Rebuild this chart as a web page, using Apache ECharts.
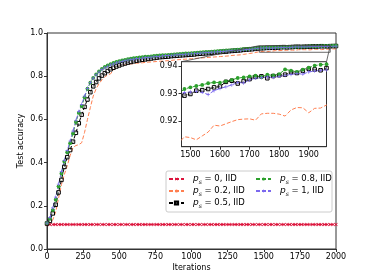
<!DOCTYPE html>
<html><head><meta charset="utf-8">
<script src="https://cdn.jsdelivr.net/npm/echarts@6/dist/echarts.min.js"></script>
<style>html,body{margin:0;padding:0;background:#fff}#c{width:374px;height:280px}</style>
</head><body><div id="c"></div>
<script>
const iterations = [0,20,40,60,80,100,120,140,160,180,200,220,240,260,280,300,320,340,360,380,400,420,440,460,480,500,520,540,560,580,600,620,640,660,680,700,720,740,760,780,800,820,840,860,880,900,920,940,960,980,1000,1020,1040,1060,1080,1100,1120,1140,1160,1180,1200,1220,1240,1260,1280,1300,1320,1340,1360,1380,1400,1420,1440,1460,1480,1500,1520,1540,1560,1580,1600,1620,1640,1660,1680,1700,1720,1740,1760,1780,1800,1820,1840,1860,1880,1900,1920,1940,1960,1980,2000];

const psLabels = ['0', '0.2', '0.5', '0.8', '1'];

const acc_ps0 = [0.1135,0.1135,0.1135,0.1135,0.1135,0.1135,0.1135,0.1135,0.1135,0.1135,0.1135,0.1135,0.1135,0.1135,0.1135,0.1135,0.1135,0.1135,0.1135,0.1135,0.1135,0.1135,0.1135,0.1135,0.1135,0.1135,0.1135,0.1135,0.1135,0.1135,0.1135,0.1135,0.1135,0.1135,0.1135,0.1135,0.1135,0.1135,0.1135,0.1135,0.1135,0.1135,0.1135,0.1135,0.1135,0.1135,0.1135,0.1135,0.1135,0.1135,0.1135,0.1135,0.1135,0.1135,0.1135,0.1135,0.1135,0.1135,0.1135,0.1135,0.1135,0.1135,0.1135,0.1135,0.1135,0.1135,0.1135,0.1135,0.1135,0.1135,0.1135,0.1135,0.1135,0.1135,0.1135,0.1135,0.1135,0.1135,0.1135,0.1135,0.1135,0.1135,0.1135,0.1135,0.1135,0.1135,0.1135,0.1135,0.1135,0.1135,0.1135,0.1135,0.1135,0.1135,0.1135,0.1135,0.1135,0.1135,0.1135,0.1135,0.1135];

const acc_ps02 = [0.118,0.120,0.135,0.172,0.235,0.298,0.345,0.385,0.432,0.470,0.479,0.483,0.492,0.540,0.600,0.655,0.708,0.742,0.765,0.783,0.797,0.806,0.811,0.830,0.842,0.848,0.851,0.853,0.855,0.857,0.858,0.860,0.861,0.862,0.864,0.865,0.866,0.867,0.868,0.869,0.870,0.871,0.872,0.873,0.875,0.876,0.877,0.878,0.879,0.880,0.881,0.882,0.883,0.884,0.885,0.886,0.887,0.888,0.889,0.890,0.891,0.892,0.893,0.894,0.896,0.897,0.898,0.899,0.901,0.903,0.905,0.907,0.909,0.912,0.9143,0.9140,0.9132,0.9146,0.9160,0.9185,0.9182,0.9190,0.9198,0.9205,0.9207,0.9208,0.9203,0.9226,0.9228,0.9228,0.9225,0.9218,0.9240,0.9249,0.9248,0.9230,0.9246,0.9247,0.9258,0.9262,0.9265];

const acc_ps05 = [0.118,0.130,0.165,0.205,0.262,0.320,0.380,0.425,0.458,0.497,0.538,0.582,0.622,0.658,0.692,0.726,0.753,0.773,0.790,0.803,0.814,0.824,0.832,0.839,0.845,0.850,0.855,0.859,0.863,0.866,0.869,0.872,0.874,0.876,0.878,0.880,0.882,0.884,0.886,0.888,0.889,0.890,0.891,0.893,0.894,0.895,0.896,0.897,0.898,0.899,0.900,0.901,0.903,0.904,0.905,0.906,0.907,0.908,0.910,0.911,0.912,0.913,0.914,0.916,0.917,0.918,0.919,0.920,0.922,0.923,0.924,0.925,0.9265,0.928,0.9292,0.9298,0.9310,0.9312,0.9316,0.9322,0.9325,0.9342,0.9346,0.9336,0.9345,0.9352,0.9360,0.9362,0.9355,0.9363,0.9366,0.9368,0.9377,0.9374,0.9382,0.9389,0.9387,0.9384,0.9392,0.9395,0.9397];

const acc_ps08 = [0.120,0.140,0.180,0.228,0.290,0.350,0.405,0.448,0.490,0.535,0.588,0.630,0.662,0.702,0.742,0.770,0.792,0.808,0.822,0.834,0.843,0.850,0.856,0.861,0.866,0.870,0.873,0.876,0.879,0.881,0.883,0.885,0.887,0.888,0.890,0.891,0.892,0.894,0.895,0.896,0.897,0.898,0.899,0.900,0.901,0.902,0.903,0.904,0.905,0.906,0.907,0.908,0.909,0.910,0.911,0.912,0.913,0.914,0.915,0.916,0.917,0.918,0.919,0.920,0.921,0.922,0.923,0.924,0.925,0.926,0.927,0.928,0.929,0.930,0.9316,0.9322,0.9327,0.9331,0.9337,0.9340,0.9339,0.9344,0.9349,0.9356,0.9358,0.9362,0.9364,0.9360,0.9368,0.9365,0.9370,0.9387,0.9383,0.9378,0.9386,0.9393,0.9401,0.9404,0.9406,0.9409,0.9411];

const acc_ps1 = [0.120,0.145,0.190,0.240,0.300,0.358,0.410,0.455,0.500,0.546,0.595,0.636,0.670,0.708,0.744,0.771,0.791,0.806,0.819,0.830,0.839,0.846,0.852,0.857,0.862,0.866,0.869,0.872,0.875,0.877,0.879,0.881,0.883,0.884,0.886,0.887,0.888,0.890,0.891,0.892,0.894,0.895,0.896,0.897,0.898,0.899,0.900,0.901,0.902,0.903,0.904,0.905,0.906,0.907,0.908,0.909,0.910,0.911,0.912,0.913,0.914,0.915,0.916,0.917,0.918,0.919,0.920,0.921,0.922,0.923,0.924,0.925,0.927,0.9288,0.9303,0.9305,0.9308,0.9304,0.9296,0.9310,0.9318,0.9324,0.9331,0.9340,0.9338,0.9349,0.9355,0.9357,0.9360,0.9358,0.9362,0.9365,0.9369,0.9372,0.9370,0.9378,0.9381,0.9384,0.9385,0.9387,0.9389];

const insetXTicks = [1500, 1600, 1700, 1800, 1900];
const insetYTicks = [0.92, 0.93, 0.94];
const insetXRange = [1470, 1960];
const insetYRange = [0.9107, 0.9415];

const X_PATH = 'path://M0,1.5L1.5,0L5,3.5L8.5,0L10,1.5L6.5,5L10,8.5L8.5,10L5,6.5L1.5,10L0,8.5L3.5,5Z';
const PLUS_PATH = 'path://M4,0H6V4H10V6H6V10H4V6H0V4H4Z';

const seriesValues = [acc_ps0, acc_ps02, acc_ps05, acc_ps08, acc_ps1];
const names = psLabels.map(v => 'p_s = ' + v + ', IID');
const looks = [
  {color:'#DC143C', symbol:X_PATH, size:3.5, fill:'#DC143C', bw:0},
  {color:'#FF7F50', symbol:'none', size:0, fill:'#FF7F50', bw:0},
  {color:'#000000', symbol:'rect', size:3.5, fill:'rgba(255,255,255,0.4)', bw:1},
  {color:'#2CA02C', symbol:'circle', size:3.8, fill:'#2CA02C', bw:0},
  {color:'#7B68EE', symbol:PLUS_PATH, size:3.5, fill:'#7B68EE', bw:0}
];

const font = 'DejaVu Sans';
function axisCommon(z) {
  return {
    z: z,
    nameMoveOverlap: false,
    axisLine: {show: true, onZero: false, lineStyle: {color: '#333', width: 1}},
    axisTick: {show: true, length: 3, lineStyle: {color: '#333', width: 1}},
    splitLine: {show: false},
    axisLabel: {color: '#000', fontSize: 8, fontFamily: font, margin: 4, formatter: v => String(v)}
  };
}

const series = [];
seriesValues.forEach((vals, k) => {
  const L = looks[k];
  const data = iterations.map((x, i) => [x, vals[i]]);
  const base = {
    type: 'line', name: names[k], data: data,
    symbol: L.symbol, symbolSize: L.size, showSymbol: L.symbol !== 'none',
    lineStyle: {color: L.color, width: 1, type: [4, 2]},
    itemStyle: {color: L.fill, borderColor: L.color, borderWidth: L.bw},
    silent: true, animation: false
  };
  series.push(Object.assign({}, base, {xAxisIndex: 0, yAxisIndex: 0, z: 2}));
  if (k > 0) series.push(Object.assign({}, base, {xAxisIndex: 1, yAxisIndex: 1, z: 7}));
});

const legendText = {
  fontFamily: font, fontSize: 8.5, color: '#000', lineHeight: 12, padding: [0, 0, 0, 4],
  rich: {
    p: {fontFamily: font, fontStyle: 'italic', fontSize: 9, lineHeight: 12},
    s: {fontFamily: font, fontStyle: 'italic', fontSize: 6, lineHeight: 9, verticalAlign: 'bottom'},
    t: {fontFamily: font, fontSize: 8.5, lineHeight: 12}
  }
};
function legendFmt(name) {
  const v = psLabels[names.indexOf(name)];
  return '{p|p}{s|s}{t| = ' + v + ', IID}';
}

const option = {
  animation: false,
  backgroundColor: '#fff',
  grid: [
    {left: 47, right: 38, top: 33, bottom: 31, show: true, borderColor: '#333', borderWidth: 1, z: 0},
    {left: 181.5, top: 61.7, width: 145, height: 85, show: true, backgroundColor: '#fff', borderColor: '#333', borderWidth: 1, z: 5}
  ],
  xAxis: [
    Object.assign(axisCommon(1), {type: 'value', gridIndex: 0, min: 0, max: 2000, interval: 250,
      name: 'Iterations', nameLocation: 'middle', nameGap: 15,
      nameTextStyle: {fontFamily: font, fontSize: 8, color: '#000'}}),
    Object.assign(axisCommon(6), {type: 'value', gridIndex: 1, min: insetXRange[0], max: insetXRange[1]})
  ],
  yAxis: [
    Object.assign(axisCommon(1), {type: 'value', gridIndex: 0, min: 0, max: 1, interval: 0.2,
      name: 'Test accuracy', nameLocation: 'middle', nameGap: 22,
      nameTextStyle: {fontFamily: font, fontSize: 8, color: '#000'}}),
    Object.assign(axisCommon(6), {type: 'value', gridIndex: 1, min: insetYRange[0], max: insetYRange[1]})
  ],
  legend: [
    {data: names.slice(0, 3), left: 168, top: 173, padding: 0, orient: 'vertical', itemWidth: 15, itemHeight: 4, itemGap: 0,
     z: 10, textStyle: legendText, formatter: legendFmt, selectedMode: false},
    {data: names.slice(3), left: 255, top: 173, padding: 0, orient: 'vertical', itemWidth: 15, itemHeight: 4, itemGap: 0,
     z: 10, textStyle: legendText, formatter: legendFmt, selectedMode: false}
  ],
  graphic: [
    {type: 'rect', id: 'legendBox', z: 9, shape: {x: 166, y: 171, width: 166, height: 41, r: 2},
     style: {fill: 'rgba(255,255,255,0.8)', stroke: '#cccccc', lineWidth: 1}}
  ],
  series: series
};
option.yAxis[0].axisLabel.formatter = v => v.toFixed(1);
option.xAxis[1].axisLabel.customValues = insetXTicks;
option.xAxis[1].axisTick.customValues = insetXTicks;
option.yAxis[1].axisLabel.customValues = insetYTicks;
option.yAxis[1].axisTick.customValues = insetYTicks;
option.yAxis[1].axisLabel.formatter = v => v.toFixed(2);

const chart = echarts.init(document.getElementById('c'), null, {renderer: 'canvas'});
chart.setOption(option);

const rTL = chart.convertToPixel({gridIndex: 0}, [insetXRange[0], insetYRange[1]]);
const rBR = chart.convertToPixel({gridIndex: 0}, [insetXRange[1], insetYRange[0]]);
const iTL = chart.convertToPixel({gridIndex: 1}, [insetXRange[0], insetYRange[1]]);
const iTR = chart.convertToPixel({gridIndex: 1}, [insetXRange[1], insetYRange[1]]);
chart.setOption({
  graphic: [
    {type: 'rect', id: 'zoomRect', z: 8, shape: {x: rTL[0], y: rTL[1], width: rBR[0] - rTL[0], height: rBR[1] - rTL[1]},
     style: {fill: 'none', stroke: '#444', lineWidth: 0.8}},
    {type: 'line', id: 'conn1', z: 8, shape: {x1: iTL[0], y1: iTL[1], x2: rTL[0], y2: rTL[1]},
     style: {stroke: '#444', lineWidth: 0.8}},
    {type: 'line', id: 'conn2', z: 8, shape: {x1: iTR[0], y1: iTR[1], x2: rBR[0], y2: rTL[1]},
     style: {stroke: '#444', lineWidth: 0.8}}
  ]
});
</script>
</body></html>
